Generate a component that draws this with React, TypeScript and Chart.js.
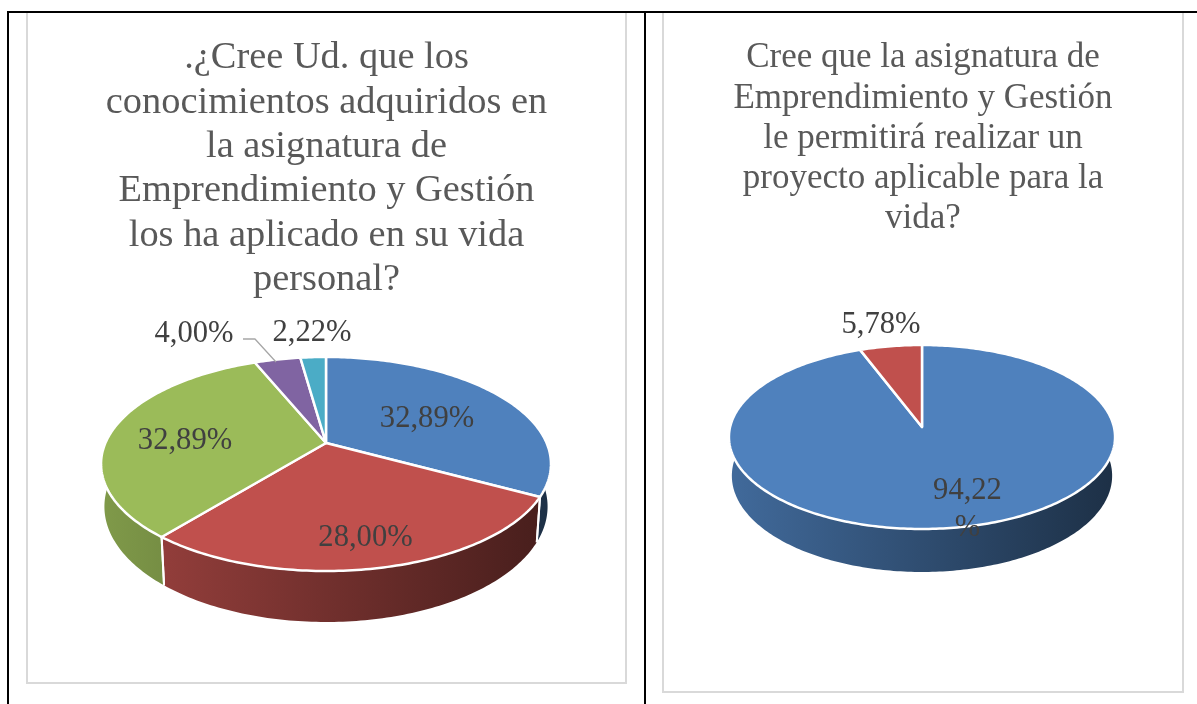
import React, { useEffect, useRef } from "react";
import { Chart, registerables } from "chart.js";

Chart.register(...registerables);

const leftTitle = [
  ".¿Cree Ud. que los",
  "conocimientos adquiridos en",
  "la asignatura de",
  "Emprendimiento y Gestión",
  "los ha aplicado en su vida",
  "personal?",
];
const leftCategories = ["A", "B", "C", "D", "E"];
const leftValues = [32.89, 28.0, 32.89, 4.0, 2.22];
const leftTexts = [["32,89%"], ["28,00%"], ["32,89%"], ["4,00%"], ["2,22%"]];
const leftColors = ["#4f81bd", "#c0504d", "#9bbb59", "#8064a2", "#4bacc6"];

const rightTitle = [
  "Cree que la asignatura de",
  "Emprendimiento y Gestión",
  "le permitirá realizar un",
  "proyecto aplicable para la",
  "vida?",
];
const rightCategories = ["A", "B"];
const rightValues = [94.22, 5.78];
const rightTexts = [["94,22", "%"], ["5,78%"]];
const rightColors = ["#4f81bd", "#c0504d"];

const SERIF = '"Liberation Serif", "Times New Roman", serif';

type View = {
  cx: number; cy: number; A: number; B: number; p: number; D: number; xs: number;
  labels: [number, number][];
  fontSize: number;
  leader?: [number, number][];
};

function rgb(hex: string, k: number) {
  const n = parseInt(hex.slice(1), 16);
  return `rgb(${Math.round(((n >> 16) & 255) * k)},${Math.round(((n >> 8) & 255) * k)},${Math.round((n & 255) * k)})`;
}

function piePlugin(view: View, texts: string[][]) {
  return {
    id: "perspectivePie",
    beforeDatasetsDraw(chart: any) {
      const ctx: CanvasRenderingContext2D = chart.ctx;
      const { cx, cy, A, B, p, D, xs } = view;
      const proj = (a: number, z: number) => {
        const u = Math.cos(a), v = Math.sin(a), w = 1 - p * v;
        return [cx + (A * u / w) * (z ? xs : 1), cy + (B * v + z * D) / w];
      };
      const arcs = chart.getDatasetMeta(0).data as any[];
      const colors = chart.data.datasets[0].backgroundColor as string[];
      ctx.save();
      ctx.lineJoin = "round";
      // side wall
      arcs.forEach((arc, i) => {
        const n = Math.max(4, Math.ceil((arc.endAngle - arc.startAngle) * 60));
        ctx.beginPath();
        for (let k = 0; k <= n; k++) {
          const [x, y] = proj(arc.startAngle + ((arc.endAngle - arc.startAngle) * k) / n, 0);
          k ? ctx.lineTo(x, y) : ctx.moveTo(x, y);
        }
        for (let k = n; k >= 0; k--) {
          const [x, y] = proj(arc.startAngle + ((arc.endAngle - arc.startAngle) * k) / n, 1);
          ctx.lineTo(x, y);
        }
        ctx.closePath();
        const g = ctx.createLinearGradient(cx - A, 0, cx + A, 0);
        g.addColorStop(0, rgb(colors[i], 0.82));
        g.addColorStop(1, rgb(colors[i], 0.37));
        ctx.fillStyle = g;
        ctx.fill();
      });
      // seams on the front of the wall
      ctx.strokeStyle = "#ffffff";
      ctx.lineWidth = 2;
      arcs.forEach((arc) => {
        [arc.startAngle, arc.endAngle].forEach((a) => {
          if (Math.sin(a) > 0) {
            const t = proj(a, 0), b = proj(a, 1);
            ctx.beginPath();
            ctx.moveTo(t[0], t[1]);
            ctx.lineTo(b[0], b[1]);
            ctx.stroke();
          }
        });
      });
      // top face
      arcs.forEach((arc, i) => {
        const n = Math.max(4, Math.ceil((arc.endAngle - arc.startAngle) * 60));
        ctx.beginPath();
        ctx.moveTo(cx, cy);
        for (let k = 0; k <= n; k++) {
          const [x, y] = proj(arc.startAngle + ((arc.endAngle - arc.startAngle) * k) / n, 0);
          ctx.lineTo(x, y);
        }
        ctx.closePath();
        ctx.fillStyle = colors[i];
        ctx.fill();
        ctx.strokeStyle = "#ffffff";
        ctx.lineWidth = 2.5;
        ctx.stroke();
      });
      // leader line
      if (view.leader) {
        ctx.strokeStyle = "#a6a6a6";
        ctx.lineWidth = 1.3;
        ctx.beginPath();
        view.leader.forEach(([x, y], k) => (k ? ctx.lineTo(x, y) : ctx.moveTo(x, y)));
        ctx.stroke();
      }
      // data labels
      ctx.fillStyle = "#404040";
      ctx.font = `${view.fontSize}px ${SERIF}`;
      ctx.textAlign = "center";
      ctx.textBaseline = "middle";
      texts.forEach((lines, i) => {
        lines.forEach((t, j) => {
          ctx.fillText(t, view.labels[i][0], view.labels[i][1] + j * view.fontSize * 1.22);
        });
      });
      ctx.restore();
      return false;
    },
  };
}

function PieCard(props: {
  left: number; top: number; width: number; height: number;
  title: string[]; titleSize: number; titleLine: number; titlePad: number;
  categories: string[]; values: number[]; colors: string[]; texts: string[][]; view: View;
}) {
  const ref = useRef<HTMLCanvasElement>(null);
  useEffect(() => {
    const chart = new Chart(ref.current!, {
      type: "pie",
      data: {
        labels: props.categories,
        datasets: [{ data: props.values, backgroundColor: props.colors }],
      },
      options: {
        animation: false,
        responsive: false,
        plugins: {
          legend: { display: false },
          tooltip: { enabled: false },
          title: {
            display: true,
            text: props.title,
            color: "#595959",
            padding: { top: props.titlePad, bottom: 0 },
            font: { family: SERIF, size: props.titleSize, weight: "normal", lineHeight: props.titleLine },
          },
        },
      } as any,
      plugins: [piePlugin(props.view, props.texts) as any],
    });
    return () => chart.destroy();
  }, []);
  return (
    <canvas
      ref={ref}
      width={props.width}
      height={props.height}
      style={{ position: "absolute", left: props.left, top: props.top, width: props.width, height: props.height, display: "block" }}
    />
  );
}

const box = (l: number, t: number, w: number, h: number, extra: any): any => ({
  position: "absolute", left: l, top: t, width: w, height: h, boxSizing: "border-box", ...extra,
});

export default function App() {
  return (
    <div style={{ position: "fixed", left: 0, top: 0, width: 1197, height: 704, background: "#fff", overflow: "hidden" }}>
      <PieCard
        left={28} top={13} width={597} height={668}
        title={leftTitle} titleSize={38.4} titleLine={1.156} titlePad={23}
        categories={leftCategories} values={leftValues} colors={leftColors} texts={leftTexts}
        view={{
          cx: 326 - 28, cy: 443 - 13, A: 220.6, B: 102.9, p: 0.196, D: 41, xs: 0.985, fontSize: 30.6,
          labels: [[427 - 28, 419 - 13], [365.5 - 28, 538 - 13], [185 - 28, 441 - 13], [194 - 28, 334 - 13], [312 - 28, 333 - 13]],
          leader: [[243 - 28, 339 - 13], [255 - 28, 339 - 13], [276 - 28, 362 - 13]],
        }}
      />
      <PieCard
        left={664} top={13} width={518} height={678}
        title={rightTitle} titleSize={35} titleLine={1.149} titlePad={25}
        categories={rightCategories} values={rightValues} colors={rightColors} texts={rightTexts}
        view={{
          cx: 922 - 664, cy: 427 - 13, A: 191.9, B: 90.9, p: 0.1087, D: 38.3, xs: 0.985, fontSize: 30.6,
          labels: [[967.5 - 664, 491 - 13], [881 - 664, 325 - 13]],
        }}
      />
      <div style={box(26, 12, 601, 672, { border: "2px solid #d9d9d9", borderTop: "none" })} />
      <div style={box(662, 12, 522, 681, { border: "2px solid #d9d9d9", borderTop: "none" })} />
      <div style={box(7, 11, 1190, 2, { background: "#000" })} />
      <div style={box(7, 11, 2, 693, { background: "#000" })} />
      <div style={box(644, 11, 2, 693, { background: "#000" })} />
    </div>
  );
}
